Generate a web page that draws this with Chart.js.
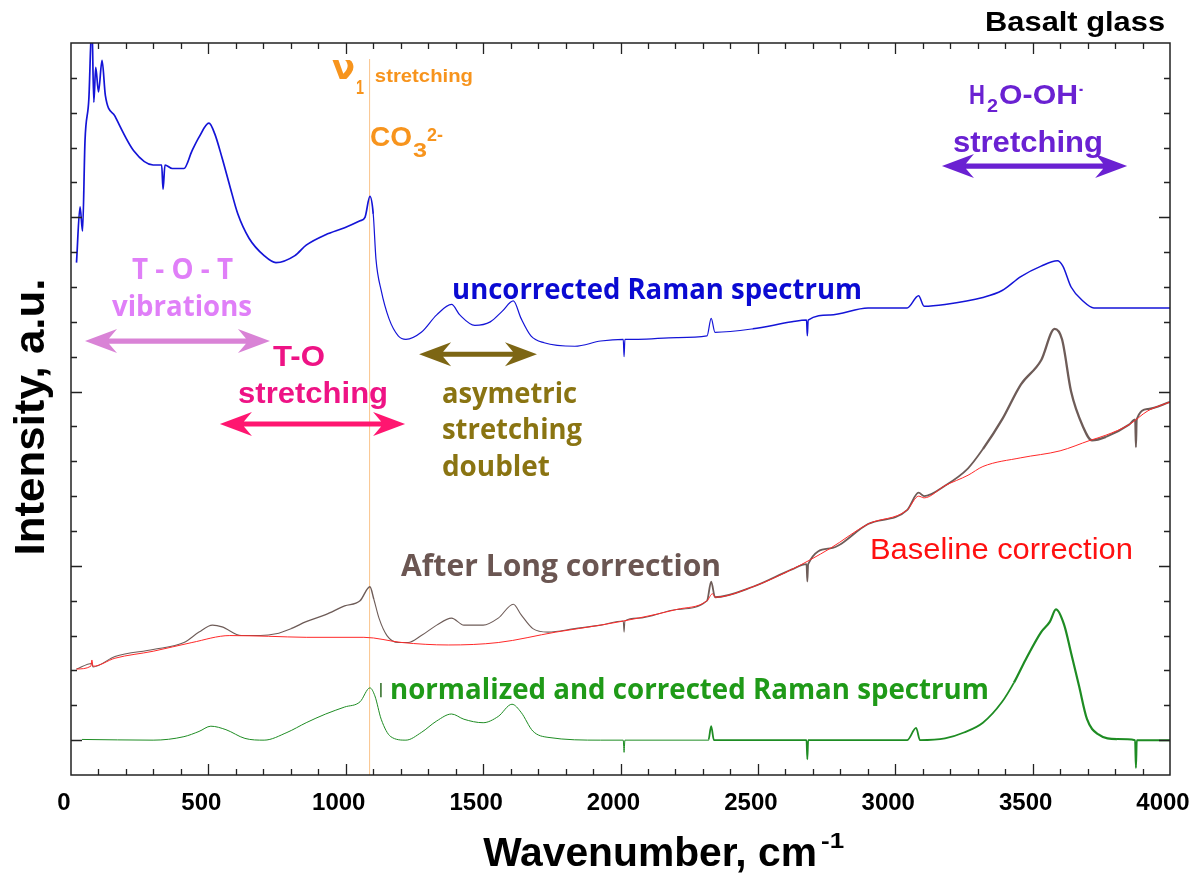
<!DOCTYPE html>
<html>
<head>
<meta charset="utf-8">
<script src="https://cdn.jsdelivr.net/npm/chart.js@4/dist/chart.umd.min.js"></script>
<style>
  html, body { margin: 0; padding: 0; background: #fff; }
  canvas { display: block; }
</style>
</head>
<body>
<canvas id="ramanChart" width="1202" height="879"></canvas>
<script>
// wavenumbers (cm-1) and intensities
const blueWn = [20,33,42,51,65,76,83,90,100,113,125,160,229,299,330,335,342,369,411,440,466,502,523,550,578,607,648,703,746,815,856,927,996,1052,1070,1088,1100,1110,1129,1157,1191,1219,1275,1331,1385,1415,1470,1526,1569,1610,1638,1674,1722,1834,1928,2010,2013,2016,2064,2205,2315,2330,2344,2482,2624,2677,2680,2683,2763,2901,3043,3085,3105,3181,3319,3389,3457,3531,3590,3610,3640,3683,3723,3807,4000];
const blueInt = [13.7,15.3,14.6,17.2,18.4,20.6,18.3,19.3,18.6,19.5,18.5,17.9,16.9,16.5,16.5,15.8,16.5,16.4,16.4,16.9,17.3,17.7,17.4,16.7,15.9,15.1,14.4,13.9,13.7,13.9,14.2,14.5,14.7,14.9,15.0,15.6,15.1,13.8,12.9,12.1,11.6,11.5,11.7,12.2,12.5,12.2,11.9,12.0,12.3,12.6,12.1,11.6,11.4,11.3,11.45,11.5,11.0,11.5,11.5,11.55,11.6,12.1,11.7,11.8,12.0,12.05,11.6,12.05,12.2,12.4,12.4,12.75,12.45,12.5,12.7,12.9,13.3,13.6,13.75,13.6,13.0,12.6,12.4,12.4,12.4];

const brownWn = [20,76,80,160,299,411,466,515,550,620,690,746,801,856,927,996,1052,1088,1102,1121,1150,1191,1227,1275,1331,1385,1430,1500,1555,1610,1638,1681,1736,1834,1928,2010,2013,2016,2064,2205,2315,2330,2344,2482,2624,2677,2680,2683,2763,2901,3043,3085,3105,3181,3265,3319,3389,3457,3531,3580,3607,3640,3683,3716,3767,3851,3873,3876,3879,3920,4000];
const brownInt = [2.04,2.2,2.1,2.4,2.6,2.8,3.1,3.3,3.25,3.0,3.0,3.05,3.2,3.4,3.6,3.85,4.0,4.4,4.05,3.5,3.0,2.8,2.8,3.0,3.3,3.5,3.3,3.3,3.5,3.9,3.6,3.2,3.1,3.2,3.3,3.42,3.1,3.42,3.5,3.75,4.0,4.55,4.1,4.4,4.9,5.05,4.55,5.05,5.5,6.2,6.6,7.1,7.0,7.3,7.8,8.35,9.2,10.2,10.9,11.8,11.5,10.0,9.0,8.6,8.7,9.05,9.2,8.4,9.2,9.5,9.7];

const redWn = [20,72,76,80,160,299,440,578,718,856,1066,1205,1373,1555,1765,1928,2064,2205,2315,2335,2344,2482,2624,2763,2901,3043,3085,3105,3181,3265,3319,3457,3600,3709,3767,3851,3920,4000];
const redInt = [2.04,2.12,2.3,2.12,2.35,2.55,2.8,3.0,2.98,2.95,2.95,2.8,2.73,2.8,3.1,3.3,3.5,3.75,4.0,4.2,4.1,4.4,4.9,5.5,6.2,6.6,7.0,6.95,7.3,7.6,7.85,8.1,8.3,8.6,8.75,9.05,9.45,9.7];

const greenWn = [40,299,411,466,509,564,633,703,786,856,927,996,1052,1088,1106,1129,1164,1219,1275,1331,1385,1430,1500,1555,1605,1638,1681,1736,1928,2010,2013,2016,2320,2330,2340,2677,2680,2683,3043,3076,3090,3181,3250,3319,3389,3432,3474,3531,3563,3585,3615,3640,3669,3698,3738,3807,3873,3876,3879,4000];
const greenInt = [0.02,0,0.1,0.25,0.4,0.3,0.05,0,0.22,0.5,0.75,0.95,1.1,1.5,1.27,0.6,0.1,0,0.22,0.55,0.75,0.6,0.5,0.68,1.03,0.8,0.26,0.08,0,0,-0.35,0,0,0.4,0,0,-0.55,0,0,0.35,0,0.05,0.22,0.5,1.1,1.65,2.3,3.1,3.4,3.75,3.3,2.5,1.55,0.6,0.17,0.03,0,-0.8,0,0];

// axis ranges and ticks
const xMin = 0, xMax = 4000, xMajor = 500, xMinor = 100;
const yMin = -1, yMax = 20, yMajor = 5, yMinor = 1;

// carbonate v1 band position
const co3Band = 1085;

const HELV = '"Liberation Sans", Arial, sans-serif';
const MYRIAD = '"Open Sans", "Noto Sans", sans-serif';

function pts(xs, ys) {
    return xs.map((x, i) => ({ x: x, y: ys[i] }));
}

// noisy parts of the spectra look thicker
function noisyWidth(ranges, base) {
    return c => {
        const wn = c.p0.parsed.x;
        for (const r of ranges) {
            if (wn >= r[0] && wn < r[1]) return r[2];
        }
        return base;
    };
}

// text labels: [text, wnLeft, wnRight, intensity baseline, size, font, colour, weight]
const notes = [
    ['Basalt glass', 3327, 3982, 20.34, 28, HELV, '#000000', 'bold'],
    ['stretching', 1106, 1463, 18.88, 19, HELV, '#f7941d', 'bold'],
    ['CO', 1088, 1241, 17.04, 28, HELV, '#f7941d', 'bold'],
    ['3', 1245, 1296, 16.73, 20, HELV, '#f7941d', 'bold'],
    ['2-', 1296, 1354, 17.18, 18, HELV, '#f7941d', 'bold'],
    ['H', 3268, 3326, 18.25, 28, HELV, '#6a21d2', 'bold'],
    ['2', 3334, 3374, 18.02, 18, HELV, '#6a21d2', 'bold'],
    ['O-OH', 3378, 3665, 18.25, 28, HELV, '#6a21d2', 'bold'],
    ['-', 3669, 3684, 18.5, 18, HELV, '#6a21d2', 'bold'],
    ['stretching', 3210, 3756, 16.87, 30, HELV, '#6a21d2', 'bold'],
    ['T - O - T', 222, 590, 13.23, 29, MYRIAD, '#e07ff8', 'bold'],
    ['vibrations', 149, 659, 12.16, 29, MYRIAD, '#e07ff8', 'bold'],
    ['T-O', 735, 924, 10.73, 30, HELV, '#ee1385', 'bold'],
    ['stretching', 608, 1154, 9.67, 30, HELV, '#ee1385', 'bold'],
    ['asymetric', 1350, 1842, 9.67, 28, MYRIAD, '#8a7412', 'bold'],
    ['stretching', 1350, 1860, 8.64, 28, MYRIAD, '#8a7412', 'bold'],
    ['doublet', 1350, 1743, 7.57, 28, MYRIAD, '#8a7412', 'bold'],
    ['uncorrected Raman spectrum', 1387, 2879, 12.65, 28, MYRIAD, '#0a0ad2', 'bold'],
    ['After Long correction', 1201, 2366, 4.7, 30, MYRIAD, '#6b5652', 'bold'],
    ['Baseline correction', 2908, 3865, 5.19, 30, HELV, '#ff1010', 'normal'],
    ['normalized and corrected Raman spectrum', 1161, 3341, 1.18, 29, MYRIAD, '#1f9a18', 'bold']
];

// double arrows: [wnLeft, wnRight, intensity, colour]
const arrows = [
    [3170, 3844, 16.47, '#6a21d2'],
    [51, 724, 11.45, '#d983d6'],
    [542, 1216, 9.07, '#ff1670'],
    [1267, 1696, 11.07, '#7d6614']
];

function fitText(ctx, text, x, y, width, size, family, color, weight) {
    ctx.save();
    ctx.font = weight + ' ' + size + 'px ' + family;
    ctx.fillStyle = color;
    ctx.textAlign = 'left';
    ctx.textBaseline = 'alphabetic';
    const w = ctx.measureText(text).width;
    ctx.translate(x, y);
    ctx.scale(width / w, 1);
    ctx.fillText(text, 0, 0);
    ctx.restore();
}

function doubleArrow(ctx, x1, x2, y, color) {
    const head = 32, half = 12, shaft = 2.6, notch = 8;
    ctx.save();
    ctx.fillStyle = color;
    ctx.beginPath();
    ctx.moveTo(x1, y);
    ctx.lineTo(x1 + head, y - half);
    ctx.lineTo(x1 + head - notch, y - shaft);
    ctx.lineTo(x2 - head + notch, y - shaft);
    ctx.lineTo(x2 - head, y - half);
    ctx.lineTo(x2, y);
    ctx.lineTo(x2 - head, y + half);
    ctx.lineTo(x2 - head + notch, y + shaft);
    ctx.lineTo(x1 + head - notch, y + shaft);
    ctx.lineTo(x1 + head, y + half);
    ctx.closePath();
    ctx.fill();
    ctx.restore();
}

const decorations = {
    id: 'decorations',
    beforeDatasetsDraw(chart) {
        const { ctx, scales: { x, y } } = chart;
        ctx.save();
        ctx.strokeStyle = 'rgb(250,196,140)';
        ctx.lineWidth = 1;
        ctx.beginPath();
        ctx.moveTo(x.getPixelForValue(co3Band) + 0.5, y.getPixelForValue(19.54));
        ctx.lineTo(x.getPixelForValue(co3Band) + 0.5, y.getPixelForValue(yMin));
        ctx.stroke();
        ctx.restore();
    },
    afterDraw(chart) {
        const { ctx, chartArea: a, scales: { x, y } } = chart;

        // frame and inward ticks
        ctx.save();
        ctx.strokeStyle = '#222';
        ctx.lineWidth = 1.5;
        ctx.strokeRect(a.left, a.top, a.right - a.left, a.bottom - a.top);
        ctx.lineWidth = 1.3;
        ctx.beginPath();
        for (let v = xMin + xMinor; v < xMax; v += xMinor) {
            const px = Math.round(x.getPixelForValue(v)) + 0.5;
            const len = v % xMajor === 0 ? 11 : 6;
            ctx.moveTo(px, a.bottom); ctx.lineTo(px, a.bottom - len);
            ctx.moveTo(px, a.top); ctx.lineTo(px, a.top + len);
        }
        for (let v = yMin + yMinor; v < yMax; v += yMinor) {
            const py = Math.round(y.getPixelForValue(v)) + 0.5;
            const len = v % yMajor === 0 ? 11 : 6;
            ctx.moveTo(a.left, py); ctx.lineTo(a.left + len, py);
            ctx.moveTo(a.right, py); ctx.lineTo(a.right - len, py);
        }
        ctx.stroke();
        ctx.restore();

        // arrows
        arrows.forEach(ar => {
            doubleArrow(ctx, x.getPixelForValue(ar[0]), x.getPixelForValue(ar[1]), y.getPixelForValue(ar[2]), ar[3]);
        });

        // labels
        notes.forEach(n => {
            const left = x.getPixelForValue(n[1]);
            fitText(ctx, n[0], left, y.getPixelForValue(n[3]), x.getPixelForValue(n[2]) - left, n[4], n[5], n[6], n[7]);
        });

        // nu symbol with subscript
        fitText(ctx, '\u03bd', x.getPixelForValue(950), y.getPixelForValue(18.98), 23, 34, '"DejaVu Sans", sans-serif', '#f7941d', 'bold');
        fitText(ctx, '1', x.getPixelForValue(1037), y.getPixelForValue(18.55), 8, 20, HELV, '#f7941d', 'bold');

        // stray mark before the green label
        ctx.save();
        ctx.strokeStyle = '#2a6a20';
        ctx.lineWidth = 1.5;
        ctx.beginPath();
        ctx.moveTo(x.getPixelForValue(1128), y.getPixelForValue(1.64));
        ctx.lineTo(x.getPixelForValue(1128), y.getPixelForValue(1.23));
        ctx.stroke();
        ctx.restore();

        // axis titles
        fitText(ctx, 'Wavenumber, cm', x.getPixelForValue(1500), a.bottom + 91, x.getPixelForValue(2715) - x.getPixelForValue(1500), 40, HELV, '#000', 'bold');
        fitText(ctx, '-1', x.getPixelForValue(2730), a.bottom + 73, x.getPixelForValue(2814) - x.getPixelForValue(2730), 22, HELV, '#000', 'bold');

        ctx.save();
        ctx.font = 'bold 42px ' + HELV;
        ctx.fillStyle = '#000';
        ctx.textAlign = 'center';
        ctx.textBaseline = 'alphabetic';
        const yt = 'Intensity, a.u.';
        const w = ctx.measureText(yt).width;
        ctx.translate(a.left - 27, y.getPixelForValue(9.27));
        ctx.rotate(-Math.PI / 2);
        ctx.scale(277 / w, 1);
        ctx.fillText(yt, 0, 0);
        ctx.restore();
    }
};

const ctx = document.getElementById('ramanChart').getContext('2d');
new Chart(ctx, {
    type: 'line',
    data: {
        datasets: [
            {
                label: 'Baseline correction', data: pts(redWn, redInt),
                borderColor: 'rgb(255,40,40)', borderWidth: 1, order: 0
            },
            {
                label: 'normalized and corrected', data: pts(greenWn, greenInt),
                borderColor: 'rgb(30,140,35)', order: 1,
                segment: { borderWidth: noisyWidth([[2200, 3400, 1.8], [3400, 3750, 2.2], [3750, 4001, 2]], 1) }
            },
            {
                label: 'After Long correction', data: pts(brownWn, brownInt),
                borderColor: 'rgb(110,92,88)', order: 2,
                segment: { borderWidth: noisyWidth([[750, 1100, 1.4], [2300, 3300, 1.8], [3300, 3720, 2.3], [3720, 4001, 2]], 1.1) }
            },
            {
                label: 'uncorrected', data: pts(blueWn, blueInt),
                borderColor: 'rgb(20,20,215)', order: 3,
                segment: { borderWidth: noisyWidth([[0, 1090, 1.7], [2400, 4001, 1.5]], 1.2) }
            }
        ]
    },
    options: {
        responsive: false,
        animation: false,
        parsing: false,
        elements: {
            point: { radius: 0 },
            line: { cubicInterpolationMode: 'monotone', borderJoinStyle: 'round' }
        },
        layout: { padding: { left: 71, right: 32, top: 43, bottom: 0 } },
        plugins: {
            legend: { display: false },
            tooltip: { enabled: false }
        },
        scales: {
            x: {
                type: 'linear',
                min: xMin,
                max: xMax,
                grid: { display: false, drawTicks: false },
                border: { display: false },
                ticks: {
                    stepSize: xMajor,
                    autoSkip: false,
                    maxRotation: 0,
                    padding: 14,
                    labelOffset: -7,
                    color: '#000',
                    font: { family: HELV, size: 24, weight: 'bold' },
                    callback: v => String(v)
                },
                afterFit: s => {
                    s.height = 104;
                    s.paddingLeft = 0;
                    s.paddingRight = 0;
                }
            },
            y: {
                type: 'linear',
                min: yMin,
                max: yMax,
                display: false
            }
        }
    },
    plugins: [decorations]
});
</script>
</body>
</html>
